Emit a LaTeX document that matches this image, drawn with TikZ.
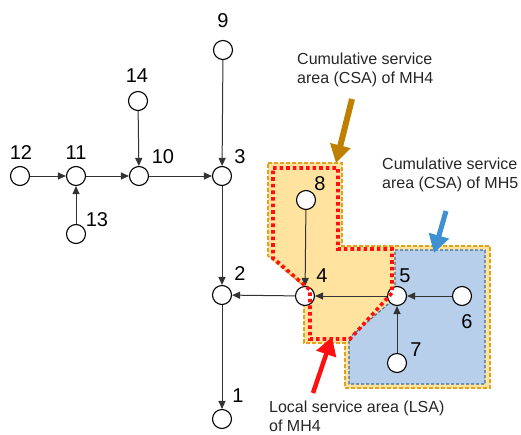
\documentclass[tikz,border=0pt]{standalone}
\usepackage{fontspec}
\setmainfont{Liberation Sans}
\usetikzlibrary{arrows.meta}
\definecolor{csafill}{HTML}{FFE39E}
\definecolor{csaline}{HTML}{E3A21C}
\definecolor{mhfill}{HTML}{B7CFEA}
\definecolor{mhline}{HTML}{3D6E9E}
\definecolor{lsared}{HTML}{FF1010}
\definecolor{csabrown}{HTML}{BF8000}
\definecolor{csablue}{HTML}{3F92D2}
\definecolor{edgegray}{HTML}{333333}
\definecolor{notetext}{HTML}{262626}
\begin{document}
\begin{tikzpicture}[x=1pt,y=-1pt,
  mh/.style={circle, draw=black, fill=white, line width=1.1pt, minimum size=19pt, inner sep=0pt},
  num/.style={font=\fontsize{20}{24}\selectfont, inner sep=0pt},
  flow/.style={draw=edgegray, line width=1pt, -{Triangle[length=8pt,width=7pt]}},
  note/.style={font=\fontsize{16}{19}\selectfont, align=left, inner sep=0pt, anchor=west, text=notetext},
  bigarrow/.style={line width=6pt, -{Triangle[length=18pt,width=20pt]}},
  csaborder/.style={draw=csaline, line width=1.6pt, dash pattern=on 4pt off 2pt},
  mhborder/.style={draw=mhline, line width=1.1pt, dash pattern=on 3pt off 2pt},
  lsaborder/.style={draw=lsared, line width=3.6pt, dash pattern=on 3.6pt off 3pt}]
\useasboundingbox (0,0) rectangle (521,434);

% cumulative service area of MH4 (outer boundary)
\path[fill=csafill, csaborder]
  (268,163) -- (342,163) -- (342,246) -- (490,246) -- (490,388)
  -- (345,388) -- (345,343) -- (304,343) -- (304,286) -- (268,256) -- cycle;
% cumulative service area of MH5
\path[fill=mhfill, mhborder]
  (395,250) -- (485,250) -- (485,384) -- (349,384) -- (349,338)
  -- (395,298) -- cycle;

% manholes
\node[mh] (n9)  at (223,50)  {};
\node[mh] (n14) at (138,101) {};
\node[mh] (n12) at (20,176)  {};
\node[mh] (n11) at (76,176)  {};
\node[mh] (n10) at (139,176) {};
\node[mh] (n3)  at (222,176) {};
\node[mh] (n13) at (76,234)  {};
\node[mh] (n8)  at (306,200) {};
\node[mh] (n2)  at (222,295) {};
\node[mh] (n4)  at (305,296) {};
\node[mh] (n5)  at (397,296) {};
\node[mh] (n6)  at (462,296) {};
\node[mh] (n7)  at (397,363) {};
\node[mh] (n1)  at (222,419) {};

% sewer links
\draw[flow] (n12) -- (n11);
\draw[flow] (n13) -- (n11);
\draw[flow] (n11) -- (n10);
\draw[flow] (n14) -- (n10);
\draw[flow] (n10) -- (n3);
\draw[flow] (n9)  -- (n3);
\draw[flow] (n3)  -- (n2);
\draw[flow] (n4)  -- (n2);
\draw[flow] (n2)  -- (n1);
\draw[flow] (n8)  -- (n4);
\draw[flow] (n5)  -- (n4);
\draw[flow] (n6)  -- (n5);
\draw[flow] (n7)  -- (n5);

% local service area of MH4
\path[lsaborder]
  (273,168) -- (338,168) -- (338,249) -- (392,249) -- (392,293)
  -- (350,339) -- (310,339) -- (310,290) -- (273,258) -- cycle;

% manhole numbers
\node[num] (l9)  at (223,21)  {9};
\node[num] (l14) at (137,76)  {14};
\node[num] (l12) at (21,153)  {12};
\node[num] (l11) at (76,153)  {11};
\node[num] (l10) at (163,157) {10};
\node[num] (l3)  at (240,157) {3};
\node[num] (l13) at (97,220)  {13};
\node[num] (l2)  at (240,274) {2};
\node[num] (l1)  at (238,396) {1};
\node[num] (l8)  at (320,184) {8};
\node[num] (l4)  at (322,276) {4};
\node[num] (l5)  at (405,276) {5};
\node[num] (l6)  at (467,322) {6};
\node[num] (l7)  at (416,350) {7};

% annotations
\node[note] (tcsa4) at (297,70)  {Cumulative service\\area (CSA) of MH4};
\node[note] (tcsa5) at (382,175) {Cumulative service\\area (CSA) of MH5};
\node[note] (tlsa4) at (269,416) {Local service area (LSA)\\of MH4};

\coordinate (a4s) at (352,99);
\coordinate (a4e) at (336,163);
\coordinate (a5s) at (446,211);
\coordinate (a5e) at (434,253);
\coordinate (als) at (313,393);
\coordinate (ale) at (332,337);
\draw[bigarrow, draw=csabrown, fill=csabrown] (a4s) -- (a4e);
\draw[bigarrow, draw=csablue, fill=csablue, line width=5pt] (a5s) -- (a5e);
\draw[bigarrow, draw=lsared, fill=lsared, line width=4.5pt] (als) -- (ale);
\end{tikzpicture}
\end{document}
